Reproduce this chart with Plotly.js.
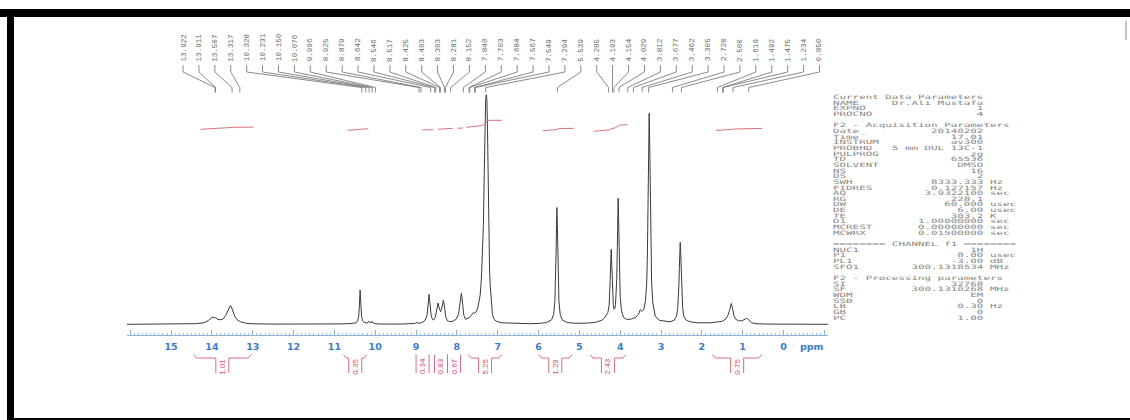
<!DOCTYPE html>
<html><head><meta charset="utf-8">
<script src="https://cdn.plot.ly/plotly-3.0.1.min.js"></script>
<style>
html,body{margin:0;padding:0;background:#fff;width:1130px;height:420px;overflow:hidden;position:relative}
#plot{position:absolute;left:0;top:0;width:1130px;height:420px}
.bar{position:absolute;background:#000}
#params{position:absolute;left:833px;top:94px;margin:0;font-family:"DejaVu Sans Mono",monospace;font-size:6px;line-height:5.66px;color:#858585;transform:scaleX(1.81);transform-origin:0 0;white-space:pre}
</style></head><body>
<div id="plot"></div>
<pre id="params"></pre>
<div class="bar" style="left:0;top:9px;width:1130px;height:8px"></div>
<div class="bar" style="left:7px;top:9px;width:7px;height:411px"></div>
<div class="bar" style="left:7px;top:418px;width:1123px;height:2px"></div>
<div style="position:absolute;left:1125px;top:21px;width:2px;height:19px;background:#c4c4c4"></div>
<script>
// ---- spectrum trace (ppm, intensity) ----
const ppm = [16.08,15.2,14.6,14.4,14.2,14.08,14.0,13.97,13.92,13.85,13.78,13.72,13.66,13.61,13.57,13.55,13.53,13.49,13.44,13.38,13.30,13.18,13.0,12.5,11.5,
10.8,10.6,10.47,10.43,10.405,10.39,10.38,10.37,10.36,10.35,10.335,10.31,10.27,10.2,10.17,10.15,10.13,10.09,10.076,10.05,10.0,9.9,9.4,
9.04,8.98,8.92,8.84,8.78,8.73,8.705,8.69,8.68,8.67,8.655,8.63,8.60,8.57,8.53,8.50,8.475,8.46,8.445,8.42,8.40,8.375,8.355,8.34,8.33,8.32,8.30,8.27,8.23,8.18,8.10,8.02,
7.96,7.93,7.905,7.89,7.875,7.855,7.83,7.79,7.74,7.70,7.65,7.61,7.59,7.57,7.53,7.49,7.46,7.43,7.40,7.37,7.35,7.33,7.31,7.295,7.28,7.265,7.25,7.235,7.22,7.20,7.185,7.16,7.13,7.09,7.03,6.9,6.6,6.2,
5.95,5.80,5.68,5.63,5.60,5.585,5.57,5.56,5.55,5.54,5.53,5.515,5.50,5.47,5.42,5.30,5.1,4.8,
4.6,4.45,4.37,4.33,4.30,4.27,4.255,4.24,4.23,4.22,4.21,4.20,4.185,4.17,4.15,4.13,4.115,4.10,4.085,4.07,4.06,4.05,4.04,4.03,4.015,4.0,3.97,3.92,3.85,3.75,3.68,3.62,3.55,3.51,3.47,3.42,3.38,
3.35,3.335,3.32,3.31,3.30,3.29,3.28,3.27,3.26,3.245,3.23,3.20,3.14,3.04,2.9,2.78,2.68,2.62,2.59,2.575,2.56,2.55,2.54,2.53,2.52,2.51,2.50,2.485,2.47,2.44,2.38,2.28,2.1,1.8,
1.6,1.50,1.41,1.36,1.32,1.30,1.28,1.26,1.24,1.21,1.17,1.10,1.02,0.96,0.92,0.90,0.88,0.84,0.78,0.65,0.3,-1.09];
const intensity = [0,0.2,0.3,0.6,1.5,4,6.8,7.3,6.5,5,4.5,5.5,9,14,18,18.7,18,13,8,4.5,2.5,1.2,0.5,0.2,0.1,
0.4,0.8,1.5,3.5,8,17,27,34.3,27,17,8,3.5,2,1.2,2.5,3,1.8,1.8,3,1.5,0.6,0.3,0.2,
0.8,1.7,1,2,4,9,17,26,30,26,17,9,5,4.3,7,12,18,21.3,18,13,12.6,15,20,24,24.3,22,15,7,3.5,2.7,3,5,
10,18,27,31,27,17,9,5,5.5,6.5,9,11,12,11,12.5,16,21,29,45,70,100,150,200,225,229.5,225,195,140,90,55,40,20,10,5,3,1.5,0.8,0.6,
1,1.8,4.5,10,23,40,71,100,116.8,100,71,40,23,10,4.5,1.8,1,1.2,
2,4,7,10,12,19,30,50,65,75,65,50,32,20,15,16,20,28,45,77,108,126,108,77,45,28,14,7,5,5,6,7,10,14.5,13,15,24,
42,65,105,146,190,211,190,146,105,65,42,21,8,4,3,2.5,4,8,16,25,41,57,74,82,74,57,41,25,16,8,4,2.5,1.5,1.5,
2,3,5.5,9,14,18.5,20.8,18,13,8,5,3.5,3.5,4.5,5.5,6,5.5,3.5,1.5,0.5,0.2,0];

// ---- peak picking labels ----
const peakLabels = [13.922,13.911,13.507,13.317,10.328,10.231,10.150,10.076,9.996,8.925,8.879,8.642,8.546,8.517,8.425,8.403,8.303,8.281,8.152,7.840,
7.703,7.684,7.567,7.549,7.294,5.539,4.285,4.193,4.154,4.029,3.812,3.677,3.462,3.305,2.720,2.500,1.619,1.492,1.475,1.234,0.850];

// ---- integrals ----
const integralValues = ['1.01','0.35','0.34','0.83','0.67','5.25','1.29','2.43','0.75'];
const integralFrom = [14.45,10.78,9.00,8.55,8.23,7.72,6.00,4.74,1.74];
const integralTo   = [13.04,10.20,8.68,8.23,7.91,6.90,5.18,3.86,0.53];
const integralCurvePpm = [
  [14.28,14.05,13.9,13.6,13.45,12.98],
  [10.68,10.42,10.37,10.32,10.17],
  [8.86,8.58],
  [8.46,8.10],
  [7.98,7.85],
  [7.77,7.5,7.37,7.32,7.28,7.24,7.18,6.90],
  [5.89,5.62,5.57,5.53,5.48,5.13],
  [4.64,4.40,4.26,4.20,4.12,4.06,4.01,3.82],
  [1.66,1.40,1.30,1.22,0.95,0.85,0.52]];
const integralCurveLevel = [
  [195.0,195.5,196.0,196.6,197.0,197.2],
  [194.0,194.2,194.8,195.3,195.4],
  [194.3,194.6],
  [195.0,196.0],
  [196.0,196.3],
  [197.0,197.8,198.8,200.5,202.5,203.6,204.0,204.0],
  [193.6,194.0,194.6,195.4,195.8,196.0],
  [193.0,193.6,194.5,195.8,196.5,198.0,199.3,199.6],
  [193.8,194.2,194.8,195.3,195.6,195.8,195.9]];

// ---- axis ticks ----
const tickValues = [16,15,14,13,12,11,10,9,8,7,6,5,4,3,2,1,0,-1];
const tickText = ['','15','14','13','12','11','10','9','8','7','6','5','4','3','2','1','0',''];

// ---- acquisition / processing parameters ----
const paramHeaders = ['Current Data Parameters','F2 - Acquisition Parameters','======== CHANNEL f1 ========','F2 - Processing parameters'];
const paramGroupSizes = [3,19,4,7];
const paramNames = ['NAME','EXPNO','PROCNO',
 'Date_','Time','INSTRUM','PROBHD','PULPROG','TD','SOLVENT','NS','DS','SWH','FIDRES','AQ','RG','DW','DE','TE','D1','MCREST','MCWRX',
 'NUC1','P1','PL1','SFO1',
 'SI','SF','WDM','SSB','LB','GB','PC'];
const paramValues = ['Dr.Ali Mustafa','1','4',
 '20140202','17.01','av300','5 mm DUL 13C-1','zg','65536','DMSO','16','2','8333.333','0.127157','3.9322100','228.1','60.000','6.00','303.2','1.00000000','0.00000000','0.01500000',
 '1H','8.00','-3.00','300.1318534',
 '32768','300.1310268','EM','0','0.30','0','1.00'];
const paramUnits = ['','','',
 '','','','','','','','','','Hz','Hz','sec','','usec','usec','K','sec','sec','sec',
 '','usec','dB','MHz',
 '','MHz','','','Hz','',''];

// ===== geometry helpers (pixel layout of the printout) =====
const X0 = 783.5, PXP = 40.85, BASE_Y = 324.3;
const hy = y => BASE_Y - y;           // page pixel row -> intensity units
const dx = px => px / PXP;            // pixel width -> ppm width
const LABEL_X0 = 182.7, LABEL_STEP = 15.92;

const traces = [];
traces.push({x: ppm, y: intensity, mode:'lines', line:{color:'#3a3a3a', width:1}, hoverinfo:'skip', showlegend:false});

// integral curves
const icx = [], icy = [];
integralCurvePpm.forEach((arr,i)=>{ arr.forEach((p,j)=>{icx.push(p); icy.push(integralCurveLevel[i][j]);}); icx.push(null); icy.push(null); });
traces.push({x: icx, y: icy, mode:'lines', line:{color:'#d8737a', width:1}, hoverinfo:'skip', showlegend:false});

// peak label connectors
const cx = [], cy = [];
const annotations = [];
peakLabels.forEach((v,i)=>{
  const lp = (X0 - (LABEL_X0 + LABEL_STEP*i)) / PXP;
  cx.push(lp, lp, v, v, null);
  cy.push(hy(65), hy(72), hy(87.5), hy(92.5), null);
  annotations.push({x: lp, y: hy(63.5), xref:'x', yref:'y', text: v.toFixed(3), showarrow:false, textangle:-90,
    xanchor:'center', yanchor:'bottom', font:{family:'Liberation Mono, DejaVu Sans Mono, monospace', size:7.6, color:'#6a6a6a'}});
});
traces.push({x: cx, y: cy, mode:'lines', line:{color:'#6d6d6d', width:0.8}, hoverinfo:'skip', showlegend:false});

// integral brackets under the axis
const bx = [], by = [];
integralValues.forEach((t,i)=>{
  const L = integralFrom[i], R = integralTo[i], c = (L+R)/2;
  const lb = c + dx(6.5), rb = c - dx(6.5);
  const la = Math.max(L - dx(3), lb), ra = Math.min(R + dx(3), rb);
  bx.push(L, la, lb, lb, null, rb, rb, ra, R, null);
  by.push(hy(354.5), hy(358), hy(358), hy(373), null, hy(373), hy(358), hy(358), hy(354.5), null);
  annotations.push({x: c, y: hy(366.5), xref:'x', yref:'y', text: t, showarrow:false, textangle:-90,
    xanchor:'center', yanchor:'middle', font:{family:'Liberation Sans, Arial, sans-serif', size:8, color:'#d2506e'}});
});
traces.push({x: bx, y: by, mode:'lines', line:{color:'#dc6a84', width:1}, hoverinfo:'skip', showlegend:false});

annotations.push({x: -0.69, y: hy(346.5), xref:'x', yref:'y', text:'ppm', showarrow:false, xanchor:'center', yanchor:'middle',
  font:{family:'DejaVu Sans, sans-serif', size:9.5, weight:'bold', color:'#3b7cc9'}});

const layout = {
  width:1130, height:420,
  margin:{l:127, r:302, t:20, b:20, pad:0},
  paper_bgcolor:'rgba(0,0,0,0)', plot_bgcolor:'rgba(0,0,0,0)',
  showlegend:false,
  xaxis:{range:[16.08,-1.09], anchor:'free', position:0.1711, showgrid:false, zeroline:false,
    showline:true, linecolor:'#8fb2dc', linewidth:1,
    tickmode:'array', tickvals:tickValues, ticktext:tickText, ticks:'inside', ticklen:5, tickwidth:1, tickcolor:'#8fb2dc',
    ticklabelstandoff:3,
    tickfont:{family:'DejaVu Sans, sans-serif', size:9.5, weight:'bold', color:'#3b7cc9'},
    minor:{tickmode:'linear', tick0:0, dtick:0.1, ticks:'inside', ticklen:2, tickwidth:1, tickcolor:'#9dbde3', showgrid:false}},
  yaxis:{range:[-75.7,304.3], visible:false, showgrid:false, zeroline:false},
  annotations: annotations
};

Plotly.newPlot('plot', traces, layout, {staticPlot:true, displayModeBar:false});

// parameter block
const lines = [];
let k = 0;
paramHeaders.forEach((hd,g)=>{
  if (g>0) lines.push('');
  lines.push(hd);
  for (let n=0; n<paramGroupSizes[g]; n++, k++) {
    const name = paramNames[k], val = paramValues[k], unit = paramUnits[k];
    const pad = Math.max(1, 23 - name.length - val.length);
    lines.push(name + ' '.repeat(pad) + val + (unit ? ' ' + unit : ''));
  }
});
document.getElementById('params').textContent = lines.join('\n');
</script>
</body></html>
